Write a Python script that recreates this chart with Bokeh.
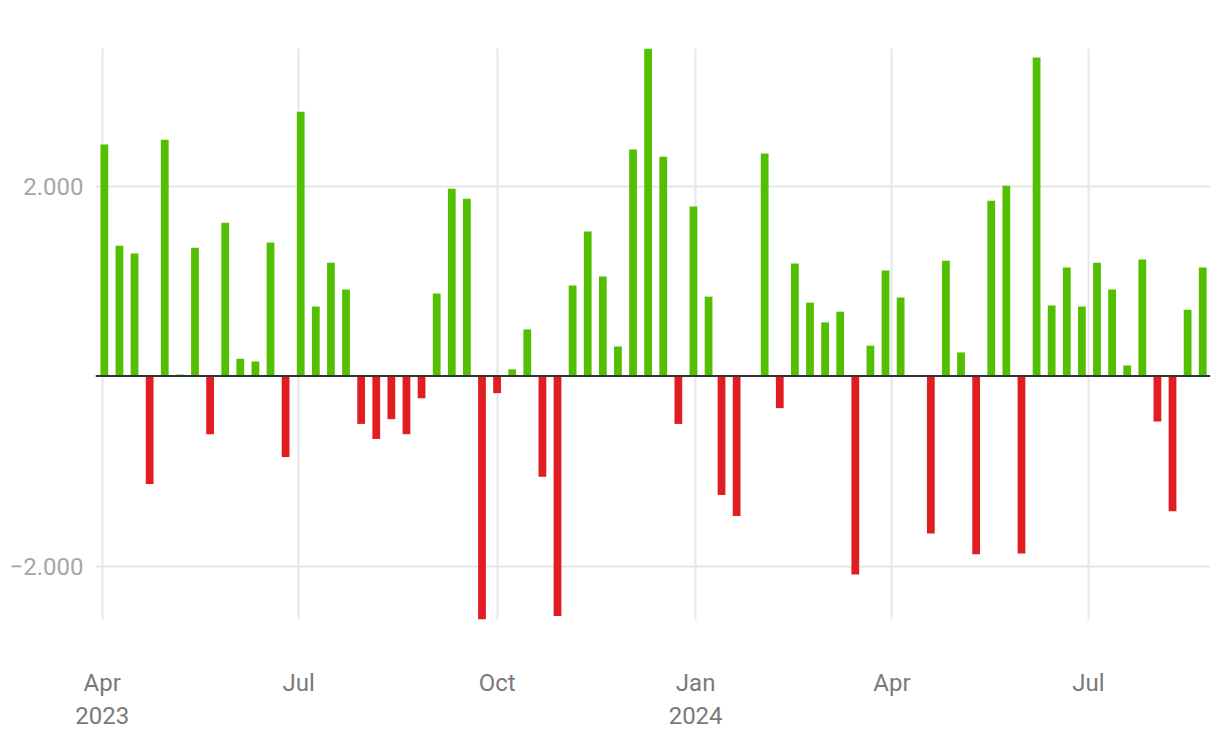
import pandas as pd
from bokeh.plotting import figure
from bokeh.models import ColumnDataSource, Range1d, FixedTicker, Span
from bokeh.embed import file_html
from bokeh.resources import INLINE

# ---- data ----
dates = [
    "2023-04-02", "2023-04-09", "2023-04-16", "2023-04-23", "2023-04-30", "2023-05-07",
    "2023-05-14", "2023-05-21", "2023-05-28", "2023-06-04", "2023-06-11", "2023-06-18",
    "2023-06-25", "2023-07-02", "2023-07-09", "2023-07-16", "2023-07-23", "2023-07-30",
    "2023-08-06", "2023-08-13", "2023-08-20", "2023-08-27", "2023-09-03", "2023-09-10",
    "2023-09-17", "2023-09-24", "2023-10-01", "2023-10-08", "2023-10-15", "2023-10-22",
    "2023-10-29", "2023-11-05", "2023-11-12", "2023-11-19", "2023-11-26", "2023-12-03",
    "2023-12-10", "2023-12-17", "2023-12-24", "2023-12-31", "2024-01-07", "2024-01-13",
    "2024-01-20", "2024-01-26", "2024-02-02", "2024-02-09", "2024-02-16", "2024-02-23",
    "2024-03-01", "2024-03-08", "2024-03-15", "2024-03-22", "2024-03-29", "2024-04-05",
    "2024-04-12", "2024-04-19", "2024-04-26", "2024-05-03", "2024-05-10", "2024-05-17",
    "2024-05-24", "2024-05-31", "2024-06-07", "2024-06-14", "2024-06-21", "2024-06-28",
    "2024-07-05", "2024-07-12", "2024-07-19", "2024-07-26", "2024-08-02", "2024-08-09",
    "2024-08-16", "2024-08-23",
]
values = [
    2437, 1372, 1289, -1135, 2487, 17, 1351, -611, 1613, 183, 154, 1405,
    -852, 2782, 732, 1193, 911, -503, -661, -453, -611, -233, 869, 1971,
    1867, -2561, -179, 71, 491, -1060, -2524, 952, 1522, 1048, 312, 2383,
    3447, 2308, -503, 1784, 836, -1252, -1472, 0, 2341, -337, 1185, 773,
    565, 678, -2087, 320, 1110, 827, 0, -1655, 1214, 249, -1875, 1846,
    2004, -1867, 3351, 744, 1143, 732, 1193, 911, 112, 1227, -478, -1422,
    699, 1143,
]
x_tick_dates = ["2023-04-01", "2023-07-01", "2023-10-01", "2024-01-01", "2024-04-01", "2024-07-01"]
x_tick_labels = ["Apr\n2023", "Jul", "Oct", "Jan\n2024", "Apr", "Jul"]
y_ticks = [-2000, 2000]
y_tick_labels = ["\u22122.000", "2.000"]

POS = "#52c000"
NEG = "#e11d21"

# ---- build ----
x = pd.to_datetime(dates)
colors = [POS if v >= 0 else NEG for v in values]
src = ColumnDataSource(dict(x=x, top=values, color=colors))

day = pd.Timedelta(days=1)
p = figure(
    width=1220, height=744, x_axis_type="datetime",
    x_range=Range1d(x[0] - 4.1 * day, x[-1] + 3.6 * day),
    y_range=Range1d(min(values), max(values)),
    output_backend="svg", toolbar_location=None,
    min_border_left=95, min_border_right=10, min_border_top=48, min_border_bottom=125,
)
p.outline_line_color = None
p.background_fill_color = "white"

p.vbar(x="x", top="top", bottom=0, width=3.6 * 24 * 3600 * 1000,
       color="color", source=src, line_color=None)

p.add_layout(Span(location=0, dimension="width", line_color="#333333", line_width=2))

tick_ms = [pd.Timestamp(d).value / 1e6 for d in x_tick_dates]
xt = FixedTicker(ticks=tick_ms)
p.xaxis.ticker = xt
p.xgrid.ticker = xt
p.xaxis.major_label_overrides = {t: l for t, l in zip(tick_ms, x_tick_labels)}

yt = FixedTicker(ticks=y_ticks)
p.yaxis.ticker = yt
p.ygrid.ticker = yt
p.yaxis.major_label_overrides = {t: l for t, l in zip(y_ticks, y_tick_labels)}

for g in (p.xgrid, p.ygrid):
    g.grid_line_color = "#e6e6e6"
    g.grid_line_width = 2

for ax in (p.xaxis, p.yaxis):
    ax.axis_line_color = None
    ax.major_tick_line_color = None
    ax.minor_tick_line_color = None
    ax.major_tick_out = 0
    ax.major_tick_in = 0
    ax.minor_tick_out = 0
    ax.major_label_text_font = "Roboto"
    ax.major_label_text_font_size = "24px"

p.xaxis.major_label_text_color = "#7a7a7a"
p.xaxis.major_label_standoff = 49
p.yaxis.major_label_text_color = "#a6a6a6"
p.yaxis.major_label_standoff = 12

open("out.html", "w").write(file_html(p, INLINE))
